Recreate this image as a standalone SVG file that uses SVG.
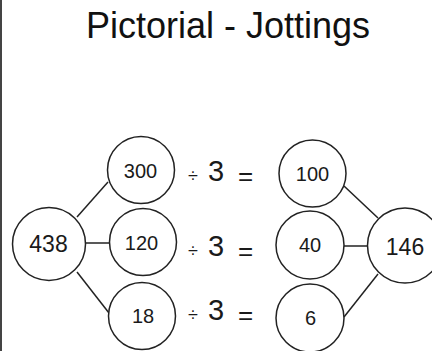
<svg xmlns="http://www.w3.org/2000/svg" width="432" height="351" viewBox="0 0 432 351">
  <style>
    .node circle { fill: #ffffff; stroke: #222222; stroke-width: 1.5; }
    .num { font-family: "Liberation Sans", Arial, sans-serif; fill: #1a1a1a; text-anchor: middle; }
    .small { font-size: 20px; }
    .big { font-size: 23px; }
    .op { font-family: "Liberation Sans", Arial, sans-serif; fill: #1a1a1a; }
    .links line { stroke: #222222; stroke-width: 1.5; }
  </style>
  <rect x="0" y="0" width="432" height="351" fill="#ffffff"/>
  <!-- left page edge -->
  <rect x="0" y="0" width="2" height="351" fill="#444444"/>

  <text x="228" y="38" font-family="Liberation Sans, Arial, sans-serif" font-size="36" text-anchor="middle" fill="#111111">Pictorial - Jottings</text>

  <g class="links">
    <line x1="77" y1="217" x2="108" y2="182"/>
    <line x1="85" y1="243" x2="110" y2="243"/>
    <line x1="77" y1="272" x2="109" y2="313"/>
    <line x1="344" y1="186" x2="378" y2="218"/>
    <line x1="344" y1="246" x2="368" y2="246"/>
    <line x1="344" y1="317" x2="378" y2="274"/>
  </g>

  <g id="n438" class="node"><circle cx="49" cy="244" r="36.5"/><text class="num big" x="48.5" y="252">438</text></g>
  <g id="n300" class="node"><circle cx="141" cy="170" r="33.5"/><text class="num small" x="140.5" y="178">300</text></g>
  <g id="n120" class="node"><circle cx="143" cy="242" r="33.5"/><text class="num small" x="141.5" y="250">120</text></g>
  <g id="n18" class="node"><circle cx="142" cy="316" r="33.5"/><text class="num small" x="143" y="323">18</text></g>
  <g id="n100" class="node"><circle cx="312.5" cy="173.5" r="33.5"/><text class="num small" x="312.5" y="181">100</text></g>
  <g id="n40" class="node"><circle cx="310" cy="245" r="34"/><text class="num small" x="310" y="252">40</text></g>
  <g id="n6" class="node"><circle cx="310" cy="318" r="34"/><text class="num small" x="310.5" y="325">6</text></g>
  <g id="n146" class="node"><circle cx="405" cy="245.5" r="37.5"/><text class="num big" x="405" y="255">146</text></g>

  <!-- division rows -->
  <g id="row1" class="op">
    <text x="188" y="182" font-size="18">÷</text>
    <text x="208" y="181" font-size="29">3</text>
    <text x="238" y="185" font-size="26">=</text>
  </g>
  <g id="row2" class="op">
    <text x="188" y="257" font-size="18">÷</text>
    <text x="208" y="256" font-size="29">3</text>
    <text x="238" y="260" font-size="26">=</text>
  </g>
  <g id="row3" class="op">
    <text x="188" y="321" font-size="18">÷</text>
    <text x="208" y="320" font-size="29">3</text>
    <text x="238" y="324" font-size="26">=</text>
  </g>
</svg>
